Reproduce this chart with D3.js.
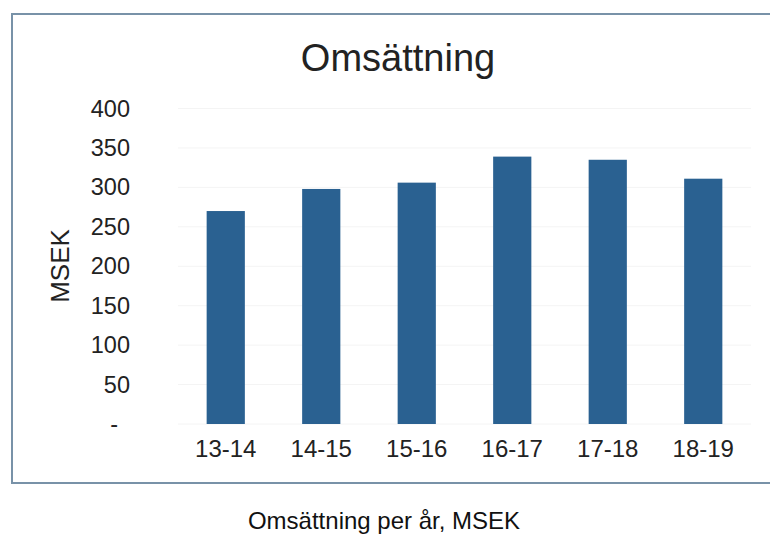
<!DOCTYPE html>
<html>
<head>
<meta charset="utf-8">
<script src="https://cdn.jsdelivr.net/npm/d3@7"></script>
<style>
  body { margin: 0; background: #fff; }
  text { font-family: "Liberation Sans", Arial, sans-serif; fill: #222; }
</style>
</head>
<body>
<script>
// omsättning per verksamhetsår, MSEK
const years = ["13-14", "14-15", "15-16", "16-17", "17-18", "18-19"]
const revenue = [270, 298, 306, 339, 335, 311]
const yTicks = [0, 50, 100, 150, 200, 250, 300, 350, 400]

const width = 770
const height = 535

const svg = d3.select("body")
    .append("svg")
    .attr("width", width)
    .attr("height", height)

// chart frame, right side runs off the page
svg.append("rect")
    .attr("x", 12)
    .attr("y", 14)
    .attr("width", 790)
    .attr("height", 469)
    .style("fill", "none")
    .style("stroke", "#7892a8")
    .style("stroke-width", 2)

let x = d3.scaleBand()
    .domain(years)
    .range([178, 751])
    .paddingInner(0.6)
    .paddingOuter(0.3)

let y = d3.scaleLinear()
    .domain([0, 400])
    .range([424, 108.5])

// faint gridlines
svg.append("g")
    .selectAll("line")
    .data(yTicks)
    .enter()
    .append("line")
    .attr("x1", 178)
    .attr("x2", 751)
    .attr("y1", d => y(d))
    .attr("y2", d => y(d))
    .style("stroke", "#f4f4f4")
    .style("stroke-width", 1)

let yAxis = svg.append("g")
    .attr("transform", "translate(130,0)")
    .call(d3.axisLeft(y).tickValues(yTicks).tickSize(0).tickPadding(0)
        .tickFormat(d => d === 0 ? "-" : d))
yAxis.select(".domain").remove()
yAxis.selectAll("text")
    .style("font-size", "23.5px")
    .style("font-family", "Liberation Sans, Arial, sans-serif")
    .style("fill", "#222")
    .attr("dx", d => d === 0 ? -12 : 0)

svg.selectAll("rect.bar")
    .data(revenue)
    .enter()
    .append("rect")
    .attr("class", "bar")
    .attr("x", (d, i) => x(years[i]))
    .attr("y", d => y(d))
    .attr("width", x.bandwidth())
    .attr("height", d => y(0) - y(d))
    .style("fill", "#2a6191")

let xAxis = svg.append("g")
    .attr("transform", "translate(0,440)")
    .call(d3.axisBottom(x).tickSize(0).tickPadding(0))
xAxis.select(".domain").remove()
xAxis.selectAll("text")
    .style("font-size", "24px")
    .style("font-family", "Liberation Sans, Arial, sans-serif")
    .style("fill", "#222")

svg.append("text")
    .attr("x", 398)
    .attr("y", 71)
    .attr("text-anchor", "middle")
    .style("font-size", "38px")
    .text("Omsättning")

svg.append("text")
    .attr("transform", "translate(60,266) rotate(-90)")
    .attr("text-anchor", "middle")
    .attr("dominant-baseline", "central")
    .style("font-size", "26px")
    .text("MSEK")

svg.append("text")
    .attr("x", 384)
    .attr("y", 529)
    .attr("text-anchor", "middle")
    .style("font-size", "24px")
    .style("fill", "#111")
    .text("Omsättning per år, MSEK")
</script>
</body>
</html>
